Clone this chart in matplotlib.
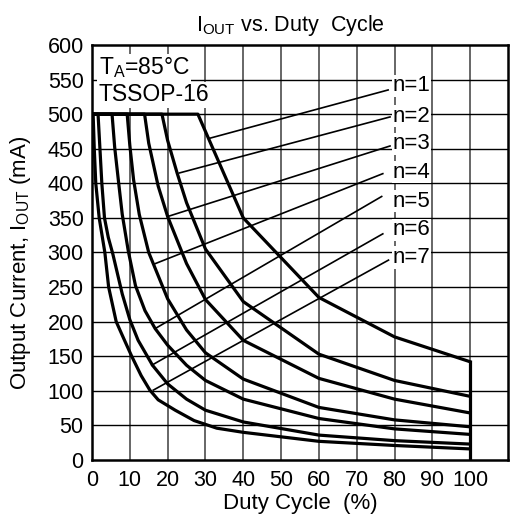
import matplotlib
matplotlib.use("Agg")
import matplotlib.pyplot as plt

plt.rcParams['font.family'] = ['Liberation Sans', 'DejaVu Sans']
plt.rcParams['mathtext.fontset'] = 'custom'
plt.rcParams['mathtext.rm'] = 'Liberation Sans'
plt.rcParams['mathtext.it'] = 'Liberation Sans'

# ---- data ----
duty_n1 = [0, 28, 40, 60, 80, 100]
iout_n1 = [500, 500, 350, 235, 178, 142]
duty_n2 = [0, 18.5, 20, 22.5, 25, 30, 40, 60, 80, 100]
iout_n2 = [500, 500, 462, 415, 372, 305, 229, 153, 115, 92]
duty_n3 = [0, 13.9, 15, 17.5, 20, 25, 30, 40, 60, 80, 100]
iout_n3 = [500, 500, 458, 396, 352, 284, 232, 173, 118, 88, 68]
duty_n4 = [0, 9.3, 10, 11, 12.5, 15, 20, 25, 30, 40, 60, 80, 100]
iout_n4 = [500, 500, 455, 405, 355, 300, 233, 188, 155, 117, 76, 58, 48]
duty_n5 = [0, 5.3, 6, 7, 8, 9.6, 11.5, 14, 16.7, 20, 25, 30, 40, 60, 80, 100]
iout_n5 = [500, 500, 452, 403, 355, 302, 252, 216, 190, 166, 137, 115, 88, 60, 45, 37]
duty_n6 = [0, 1.6, 2.1, 2.6, 3.3, 4.3, 5.5, 8, 10, 12.2, 16, 20, 25, 30, 40, 60, 80, 100]
iout_n6 = [500, 500, 450, 400, 350, 322, 298, 240, 203, 173, 137, 110, 88, 72, 55, 36, 28, 23]
duty_n7 = [0, 0.3, 0.6, 1, 1.9, 3.4, 4.4, 6.4, 8.6, 10.5, 13, 15.3, 17.5, 22, 27, 33, 40, 60, 80, 100]
iout_n7 = [500, 500, 450, 400, 350, 300, 250, 200, 173, 150, 122, 101, 87, 72, 57, 46, 40, 27, 21, 16]

curves = [(duty_n1, iout_n1), (duty_n2, iout_n2), (duty_n3, iout_n3), (duty_n4, iout_n4),
          (duty_n5, iout_n5), (duty_n6, iout_n6), (duty_n7, iout_n7)]

labels = ['n=1', 'n=2', 'n=3', 'n=4', 'n=5', 'n=6', 'n=7']
label_y = [541, 497, 457, 416, 374, 333, 293]
leader_start = [(78.3, 535), (78.8, 496), (78.8, 454), (76.9, 414), (76.6, 381), (76.9, 327), (78.4, 289)]
leader_end = [(31.0, 465), (23.1, 415), (20.0, 352), (16.3, 283), (16.7, 190), (15.8, 137), (16.2, 101)]

x_ticks = [0, 10, 20, 30, 40, 50, 60, 70, 80, 90, 100]
y_ticks = [0, 50, 100, 150, 200, 250, 300, 350, 400, 450, 500, 550, 600]

fig = plt.figure(figsize=(5.13, 5.23), dpi=100)
ax = fig.add_axes([92/513, 1-460/523, 416/513, 415/523])
ax.set_xlim(0, 110)
ax.set_ylim(0, 600)
ax.set_xticks(x_ticks)
ax.set_yticks(y_ticks)
ax.tick_params(length=0, labelsize=15.5, pad=6)
ax.tick_params(axis='x', pad=7)

for xv in x_ticks[1:]:
    ax.axvline(xv, color='#5a5a5a', lw=1.3, zorder=1)
for yv in y_ticks[1:-1]:
    ax.axhline(yv, color='black', lw=1.0, zorder=1)

for spine in ax.spines.values():
    spine.set_linewidth(1.8)
    spine.set_zorder(5)

for d, i in curves:
    ax.plot(d, i, color='black', lw=2.3, solid_joinstyle='round', zorder=3)
ax.plot([100, 100], [0, iout_n1[-1]], color='black', lw=2.3, zorder=3)

for (xs, ys), (xe, ye) in zip(leader_start, leader_end):
    ax.plot([xs, xe], [ys, ye], color='black', lw=1.2, zorder=3)

for lab, ly in zip(labels, label_y):
    ax.text(79.5, ly, lab, fontsize=16, va='center', ha='left', zorder=4,
            bbox=dict(facecolor='white', edgecolor='none', pad=0.5))

ax.text(1.8, 567, r'T$_\mathrm{A}$=85°C', fontsize=16.5, va='center', ha='left', zorder=4,
        bbox=dict(facecolor='white', edgecolor='none', pad=1))
ax.text(1.8, 528, 'TSSOP-16', fontsize=16.5, va='center', ha='left', zorder=4,
        bbox=dict(facecolor='white', edgecolor='none', pad=1))

ax.set_xlabel('Duty Cycle  (%)', fontsize=16, labelpad=2)
ax.set_ylabel(r'Output Current, I$_\mathrm{OUT}$ (mA)', fontsize=16)
ax.yaxis.set_label_coords(-0.142, 0.475)
ax.set_title(r'I$_\mathrm{OUT}$ vs. Duty  Cycle', fontsize=15.5, pad=10, x=0.477)

fig.savefig('out.png', dpi=100)
